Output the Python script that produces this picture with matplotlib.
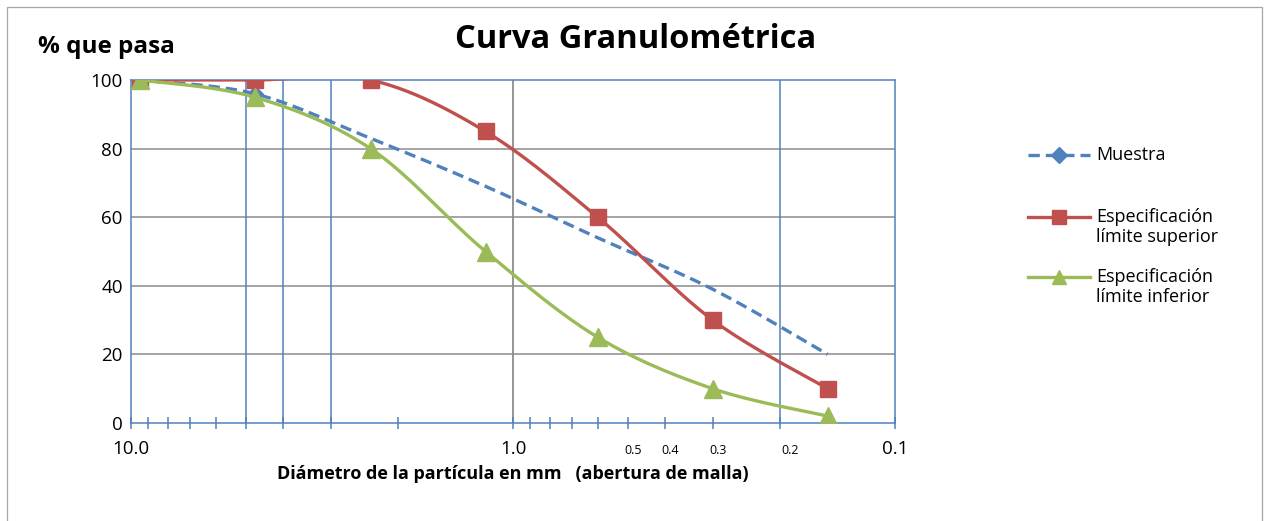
import numpy as np
import matplotlib
matplotlib.use('Agg')
import matplotlib.pyplot as plt
from matplotlib.lines import Line2D
from matplotlib.patches import Rectangle

plt.rcParams['font.family'] = ['Open Sans', 'DejaVu Sans']

# Sieve openings (mm) and % passing
diam = [9.5, 4.75, 2.36, 1.18, 0.6, 0.3, 0.15]
muestra = [100, 96, 83, 69, 54, 39, 20]
sup = [100, 100, 100, 85, 60, 30, 10]
inf = [100, 95, 80, 50, 25, 10, 2]
series_names = ['Muestra', 'Especificación\nlímite superior', 'Especificación\nlímite inferior']
extra_vlines = [5, 4, 3, 0.2]
small_ticks = [0.5, 0.4, 0.3, 0.2]

BLUE = '#4F81BD'
RED = '#C0504D'
GREEN = '#9BBB59'
GRID = '#8C8C8C'
W, H = 1264, 521


def smooth(x, y, n=40):
    """Excel-style smoothed line (Bezier via Catmull-Rom tangents) in log-x space."""
    lx = np.log10(np.asarray(x, float))
    y = np.asarray(y, float)
    P = np.column_stack([lx, y])
    P = np.vstack([P[0], P, P[-1]])
    out = []
    t = np.linspace(0, 1, n)[:, None]
    for i in range(1, len(P) - 2):
        p0, p1, p2, p3 = P[i - 1], P[i], P[i + 1], P[i + 2]
        c1 = p1 + (p2 - p0) / 6
        c2 = p2 - (p3 - p1) / 6
        seg = ((1 - t) ** 3) * p1 + 3 * ((1 - t) ** 2) * t * c1 + 3 * (1 - t) * t ** 2 * c2 + t ** 3 * p2
        out.append(seg)
    pts = np.vstack(out)
    return 10 ** pts[:, 0], pts[:, 1]


def fx(px):
    return px / W


def fy(py):
    return 1 - py / H


fig = plt.figure(figsize=(W / 100, H / 100), dpi=100)
ax = fig.add_axes([fx(131), fy(423), (895 - 131) / W, (423 - 80) / H])
fig.patches.append(Rectangle((fx(7), -0.05), fx(1262 - 7), fy(7) + 0.05,
                             transform=fig.transFigure, fill=False, edgecolor='#A6A6A6', lw=0.9))

ax.set_xscale('log')
ax.set_xlim(10, 0.1)
ax.set_ylim(0, 100)

# grid
for yv in [20, 40, 60, 80]:
    ax.axhline(yv, color=GRID, lw=1.1, zorder=0)
ax.axvline(1, color=GRID, lw=1.3, zorder=0)
for xv in extra_vlines:
    ax.axvline(xv, color=BLUE, lw=1.1, zorder=0)

lw = 2.4
dash = (3.4, 1.8)
xs, ys = smooth(diam, muestra)
ax.plot(xs, ys, color=BLUE, lw=lw, dashes=dash, zorder=3)
ax.plot(diam[:2], muestra[:2], ls='none', marker='D', ms=8, color=BLUE, zorder=3)
xs, ys = smooth(diam, sup)
ax.plot(xs, ys, color=RED, lw=lw, zorder=4)
ax.plot(diam, sup, ls='none', marker='s', ms=11.5, color=RED, mec=RED, zorder=5)
xs, ys = smooth(diam, inf)
ax.plot(xs, ys, color=GREEN, lw=lw, zorder=6)
ax.plot(diam, inf, ls='none', marker='^', ms=12.5, color=GREEN, mec=GREEN, zorder=7)

for s in ax.spines.values():
    s.set_color(BLUE)
    s.set_linewidth(1.1)

ax.set_yticks([0, 20, 40, 60, 80, 100])
ax.tick_params(axis='y', length=0, pad=6, labelsize=13.5)
ax.set_xticks([10, 1, 0.1])
ax.set_xticklabels(['10.0', '1.0', '0.1'])
ax.tick_params(axis='x', which='major', direction='inout', length=8, color=BLUE, width=1.1,
               labelsize=13.5, pad=8)
ax.tick_params(axis='x', which='minor', direction='inout', length=8, color=BLUE, width=1.1)
ax.xaxis.set_minor_formatter(matplotlib.ticker.NullFormatter())

for v in small_ticks:
    ax.annotate(f'{v}', xy=(v, 0), xytext=(7 if v == 0.2 else 4, -20), textcoords='offset points',
                ha='center', va='center', fontsize=9)

ax.set_xlabel('Diámetro de la partícula en mm   (abertura de malla)', fontsize=13,
              fontweight='bold', labelpad=5)
fig.text(fx(636), fy(40), 'Curva Granulométrica', ha='center', va='center',
         fontsize=23.5, fontweight='bold')
fig.text(fx(38), fy(47), '% que pasa', ha='left', va='center',
         fontsize=17.5, fontweight='bold')

# legend, drawn by hand so the handle sits on the first text line
leg_rows = [(155, BLUE, 'D', 8, dash), (217, RED, 's', 10, None), (277, GREEN, '^', 10, None)]
for (ly, col, mk, ms, ds), name in zip(leg_rows, series_names):
    ln = Line2D([fx(1028), fx(1090)], [fy(ly), fy(ly)], transform=fig.transFigure,
                color=col, lw=lw)
    if ds:
        ln.set_dashes(ds)
    fig.add_artist(ln)
    fig.add_artist(Line2D([fx(1059)], [fy(ly)], transform=fig.transFigure, ls='none',
                          marker=mk, ms=ms, color=col))
    for k, line in enumerate(name.split('\n')):
        fig.text(fx(1096), fy(ly + 20 * k), line, ha='left', va='center', fontsize=13)

fig.savefig('out.png', dpi=100)
